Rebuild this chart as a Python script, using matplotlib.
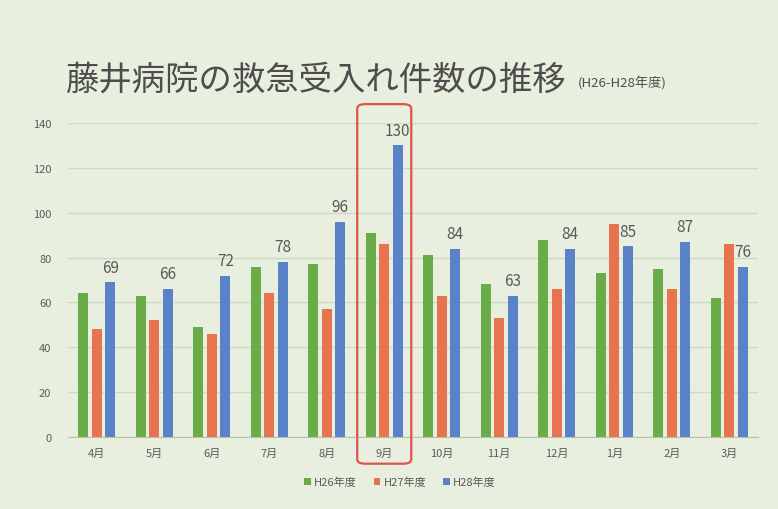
import matplotlib.pyplot as plt
import numpy as np
from matplotlib.patches import FancyBboxPatch
import matplotlib.transforms as mtransforms

plt.rcParams['font.family'] = ['Noto Sans CJK JP', 'DejaVu Sans']

# データ
months = ['4月', '5月', '6月', '7月', '8月', '9月', '10月', '11月', '12月', '1月', '2月', '3月']
h26 = [64, 63, 49, 76, 77, 91, 81, 68, 88, 73, 75, 62]
h27 = [48, 52, 46, 64, 57, 86, 63, 53, 66, 95, 66, 86]
h28 = [69, 66, 72, 78, 96, 130, 84, 63, 84, 85, 87, 76]
series_names = ['H26年度', 'H27年度', 'H28年度']
yticks = [0, 20, 40, 60, 80, 100, 120, 140]
highlight = '9月'

BG = '#e8efde'
COLORS = ['#6aac48', '#e8734f', '#5a82c8']
TEXT = '#5a5a5a'

fig = plt.figure(figsize=(7.78, 5.10), dpi=100, facecolor=BG)
ax = fig.add_axes([68 / 778, 1 - 438 / 510, (758 - 68) / 778, (438 - 124) / 510])
ax.set_facecolor(BG)

x = np.arange(len(months))
w = 0.18
step = 0.235
for k, (vals, name) in enumerate(zip([h26, h27, h28], series_names)):
    ax.bar(x + (k - 1) * step, vals, width=w, color=COLORS[k], label=name, zorder=3)

# 青棒の上にラベル
for xi, v in zip(x, h28):
    ax.text(xi + step, v + 3, str(v), ha='center', va='bottom', fontsize=11,
            color=TEXT, zorder=4)

ax.set_ylim(0, 140)
ax.set_xlim(-0.5, len(months) - 0.5)
ax.set_yticks(yticks)
ax.set_xticks(x)
ax.set_xticklabels(months)
ax.tick_params(axis='both', length=0, labelsize=8, colors=TEXT)
ax.tick_params(axis='x', pad=8)
ax.tick_params(axis='y', pad=12)
ax.grid(axis='y', color='#cfd8c4', linewidth=1, zorder=0)
for s in ['top', 'right', 'left']:
    ax.spines[s].set_visible(False)
ax.spines['bottom'].set_color('#b8c0ae')

# 9月の赤枠
hi = months.index(highlight)
trans = mtransforms.blended_transform_factory(ax.transData, ax.transAxes)
box = FancyBboxPatch((hi - 0.47, -0.085), 0.94, 1.145, boxstyle='round,pad=0,rounding_size=0.14',
                     transform=trans, fill=False, edgecolor='#e0524a', linewidth=1.6,
                     clip_on=False, zorder=5, mutation_aspect=0.1)
ax.add_patch(box)

# タイトル
fig.text(66 / 778, 1 - 80 / 510, '藤井病院の救急受入れ件数の推移', fontsize=24,
         color='#4d4d4d', va='center', ha='left')
fig.text(578 / 778, 1 - 84 / 510, '(H26-H28年度)', fontsize=9.5,
         color='#4d4d4d', va='center', ha='left')

leg = fig.legend(loc='center', bbox_to_anchor=(400 / 778, 1 - 483 / 510), ncol=3,
                 frameon=False, fontsize=8, handlelength=0.6, handleheight=0.6,
                 handletextpad=0.3, columnspacing=1.5)
for t in leg.get_texts():
    t.set_color(TEXT)

fig.savefig('out.png', dpi=100, facecolor=BG)
